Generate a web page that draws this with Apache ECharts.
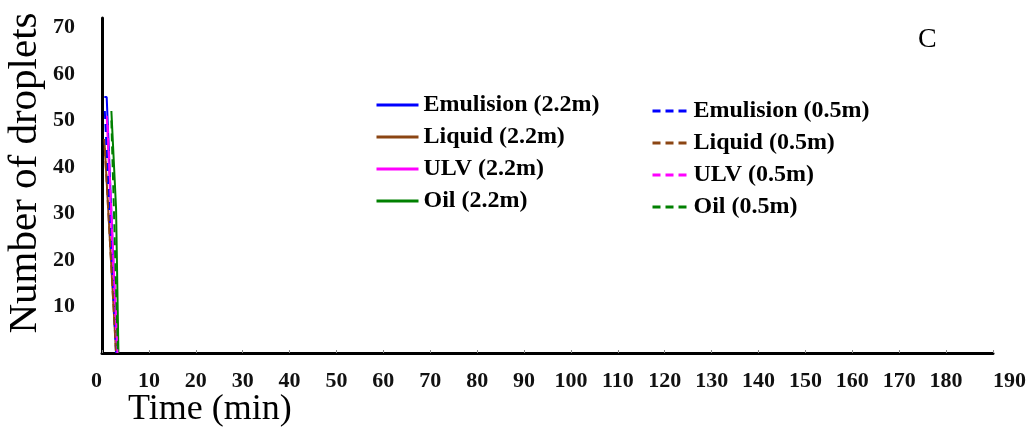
<!DOCTYPE html>
<html>
<head>
<meta charset="utf-8">
<script src="https://cdn.jsdelivr.net/npm/echarts@6/dist/echarts.min.js"></script>
<style>html,body{margin:0;padding:0;background:#fff}#c{width:1031px;height:433px}</style>
</head>
<body>
<div id="c"></div>
<script>
// Data
var xTicks = [0,10,20,30,40,50,60,70,80,90,100,110,120,130,140,150,160,170,180,190];
var yTicks = [10,20,30,40,50,60,70];
var emulsion22 = [[0.5,55],[1,55],[3.2,0]];
var liquid22   = [[0.5,46],[3.0,0]];
var ulv22      = [[1,51],[3.2,0]];
var oil22      = [[2,52],[3,31],[3.5,0]];
var emulsion05 = [[0.6,52],[3.0,0]];
var liquid05   = [[0.6,44],[3.0,0]];
var ulv05      = [[1.2,49],[3.3,0]];
var oil05      = [[2,50],[3.4,0]];

var serif = '"Liberation Serif","Times New Roman",serif';
var chart = echarts.init(document.getElementById('c'));
function s(name, data, color, type) {
  return {name: name, type: 'line', data: data, symbol: 'none', silent: true,
    lineStyle: {color: color, width: 2, type: type}, itemStyle: {color: color}};
}
var legendText = {fontFamily: serif, fontWeight: 'bold', fontSize: 24, color: '#000', lineHeight: 24};
var dash = [8, 5];
chart.setOption({
  animation: false,
  grid: {left: 102, right: 38, top: 18, bottom: 80, containLabel: false, outerBoundsMode: 'none'},
  xAxis: {
    type: 'value', min: 0, max: 190, interval: 10,
    axisLine: {lineStyle: {color: '#000', width: 3}},
    axisTick: {show: true, inside: true, length: 3, lineStyle: {color: '#888', width: 1}},
    splitLine: {show: false},
    axisLabel: {fontFamily: serif, fontWeight: 'bold', fontSize: 22, color: '#111', margin: 17,
      showMinLabel: true, showMaxLabel: true, alignMinLabel: 'right', alignMaxLabel: 'left',
      formatter: function (v) { return xTicks.indexOf(v) >= 0 ? String(v) : ''; }}
  },
  yAxis: {
    type: 'value', min: 0, max: 72, interval: 10,
    axisLine: {show: true, lineStyle: {color: '#000', width: 3}},
    axisTick: {show: false},
    splitLine: {show: false},
    axisLabel: {fontFamily: serif, fontWeight: 'bold', fontSize: 22, color: '#111', margin: 27,
      showMaxLabel: false,
      formatter: function (v) { return yTicks.indexOf(v) >= 0 ? String(v) : ''; }}
  },
  legend: [
    {left: 370, top: 88, orient: 'vertical', itemWidth: 42, itemHeight: 14, itemGap: 8,
      data: ['Emulision (2.2m)','Liquid (2.2m)','ULV (2.2m)','Oil (2.2m)'],
      textStyle: legendText, lineStyle: {width: 3}, itemStyle: {opacity: 0}},
    {left: 646, top: 94, orient: 'vertical', itemWidth: 36, itemHeight: 14, itemGap: 8,
      data: ['Emulision (0.5m)','Liquid (0.5m)','ULV (0.5m)','Oil (0.5m)'],
      textStyle: legendText, lineStyle: {width: 3}, itemStyle: {opacity: 0}}
  ],
  graphic: [
    {type: 'text', x: 25, y: 173, rotation: Math.PI / 2,
      style: {text: 'Number of droplets', font: '41px ' + serif, fill: '#000', align: 'center', verticalAlign: 'middle'}},
    {type: 'text', left: 128, top: 392, style: {text: 'Time (min)', font: '36px ' + serif, fill: '#000'}},
    {type: 'text', left: 918, top: 26, style: {text: 'C', font: '28px ' + serif, fill: '#000'}}
  ],
  series: [
    s('Emulision (2.2m)', emulsion22, '#0000ff', 'solid'),
    s('Liquid (2.2m)', liquid22, '#8B4513', 'solid'),
    s('ULV (2.2m)', ulv22, '#ff00ff', 'solid'),
    s('Oil (2.2m)', oil22, '#008000', 'solid'),
    s('Emulision (0.5m)', emulsion05, '#0000ff', dash),
    s('Liquid (0.5m)', liquid05, '#8B4513', dash),
    s('ULV (0.5m)', ulv05, '#ff00ff', dash),
    s('Oil (0.5m)', oil05, '#008000', dash)
  ]
});
</script>
</body>
</html>
